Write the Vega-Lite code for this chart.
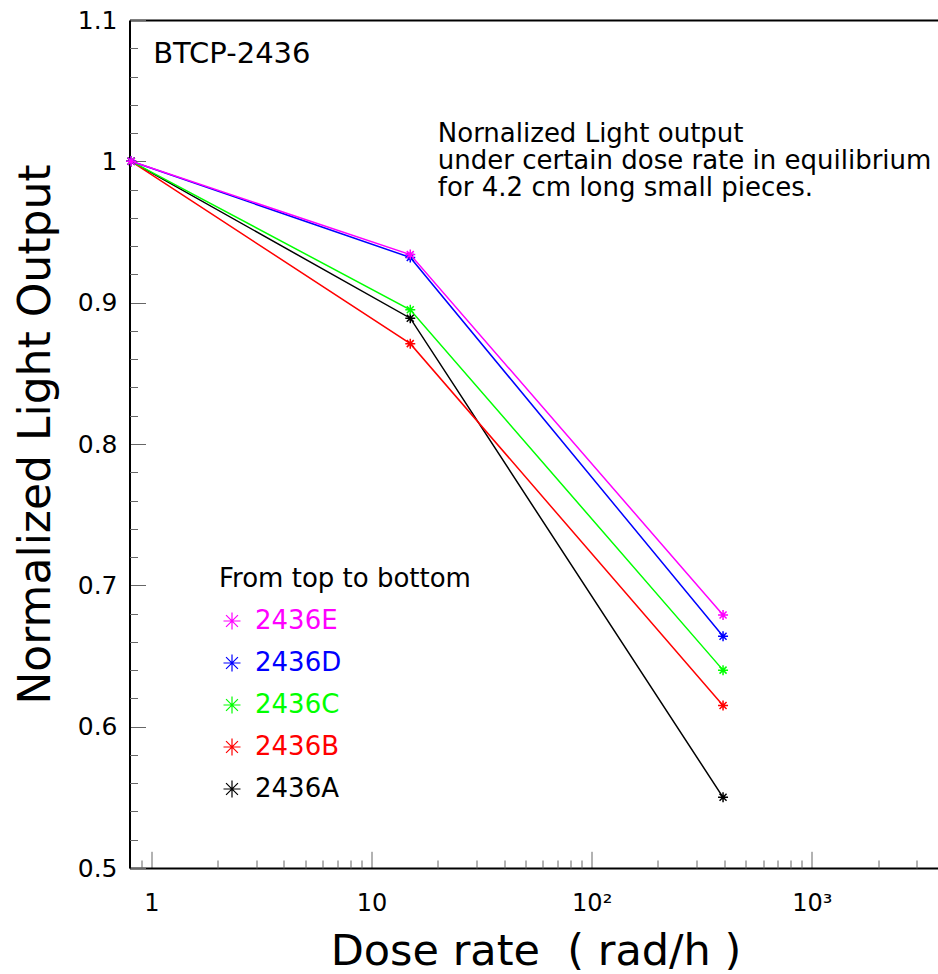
{
  "$schema": "https://vega.github.io/schema/vega-lite/v6.json",
  "width": 808.5,
  "height": 848,
  "autosize": {"type": "none"},
  "padding": {"left": 129.5, "top": 20, "right": 0, "bottom": 106},
  "background": "white",
  "config": {"view": {"stroke": null}, "font": "DejaVu Sans"},
  "datasets": {
    "series": [
      {"dose": 0.81, "lo": 1.0, "sample": "2436A"},
      {"dose": 15, "lo": 0.889, "sample": "2436A"},
      {"dose": 395, "lo": 0.55, "sample": "2436A"},
      {"dose": 0.81, "lo": 1.0, "sample": "2436B"},
      {"dose": 15, "lo": 0.871, "sample": "2436B"},
      {"dose": 395, "lo": 0.615, "sample": "2436B"},
      {"dose": 0.81, "lo": 1.0, "sample": "2436C"},
      {"dose": 15, "lo": 0.895, "sample": "2436C"},
      {"dose": 395, "lo": 0.64, "sample": "2436C"},
      {"dose": 0.81, "lo": 1.0, "sample": "2436D"},
      {"dose": 15, "lo": 0.932, "sample": "2436D"},
      {"dose": 395, "lo": 0.664, "sample": "2436D"},
      {"dose": 0.81, "lo": 1.0, "sample": "2436E"},
      {"dose": 15, "lo": 0.934, "sample": "2436E"},
      {"dose": 395, "lo": 0.679, "sample": "2436E"}
    ]
  },
  "layer": [
    {
      "data": {"name": "series"},
      "mark": {"type": "line", "strokeWidth": 1.5, "clip": true},
      "encoding": {
        "x": {
          "field": "dose", "type": "quantitative",
          "scale": {"type": "log", "domain": [0.796, 3740], "nice": false, "zero": false},
          "axis": {
            "orient": "bottom",
            "values": [1, 10, 100, 1000],
            "labelExpr": "datum.value == 1 ? '1' : datum.value == 10 ? '10' : datum.value == 100 ? '10²' : '10³'",
            "grid": false,
            "domain": true, "domainColor": "black", "domainWidth": 2,
            "ticks": true, "tickSize": -16.7, "tickColor": "#666", "tickWidth": 1,
            "labelFont": "DejaVu Sans", "labelFontSize": 24, "labelColor": "black",
            "labelBaseline": "alphabetic", "labelPadding": 58.7, "labelFlush": false, "labelOverlap": false,
            "title": "Dose rate \u00a0( rad/h )",
            "titleFont": "DejaVu Sans", "titleFontSize": 43, "titleFontWeight": "normal", "titleColor": "black",
            "titleBaseline": "alphabetic", "titleX": 406, "titleY": 96, "titleAlign": "center"
          }
        },
        "y": {
          "field": "lo", "type": "quantitative",
          "scale": {"domain": [0.5, 1.1], "nice": false, "zero": false},
          "axis": {
            "orient": "left",
            "values": [0.5, 0.6, 0.7, 0.8, 0.9, 1.0, 1.1],
            "labelExpr": "datum.value == 1 ? '1' : format(datum.value, '.1f')",
            "grid": false,
            "domain": true, "domainColor": "black", "domainWidth": 2,
            "ticks": true, "tickSize": -16, "tickColor": "#666", "tickWidth": 1,
            "labelFont": "DejaVu Sans", "labelFontSize": 25, "labelColor": "black",
            "labelAlign": "right", "labelBaseline": "middle", "labelPadding": 28.5, "labelFlush": false, "labelOverlap": false,
            "title": "Normalized Light Output",
            "titleFont": "DejaVu Sans", "titleFontSize": 44, "titleFontWeight": "normal", "titleColor": "black",
            "titleAngle": 270, "titleAlign": "center", "titleBaseline": "alphabetic",
            "titleX": -80, "titleY": 414
          }
        },
        "color": {
          "field": "sample", "type": "nominal",
          "scale": {"domain": ["2436E", "2436D", "2436C", "2436B", "2436A"], "range": ["#ff00ff", "#0000ff", "#00ff00", "#ff0000", "#000000"]},
          "legend": {
            "orient": "none", "legendX": 89.5, "legendY": 546,
            "padding": 0, "offset": 0,
            "title": "From top to bottom", "titleLimit": 500,
            "titleFont": "DejaVu Sans", "titleFontSize": 26, "titleFontWeight": "normal", "titleColor": "black",
            "titlePadding": 16, "titleAnchor": "start",
            "labelFont": "DejaVu Sans", "labelFontSize": 26, "labelOffset": 10, "labelLimit": 300,
            "labelColor": {"expr": "scale('color', datum.value)"},
            "symbolType": "M-1,0L1,0M0,-1L0,1M-0.7,-0.7L0.7,0.7M-0.7,0.7L0.7,-0.7",
            "symbolSize": 289, "symbolStrokeWidth": 1.2, "symbolFillColor": "transparent",
            "rowPadding": 16,
            "encode": {"labels": {"update": {"fill": {"scale": "color", "field": "value"}}}}
          }
        }
      }
    },
    {
      "data": {"name": "series"},
      "mark": {"type": "point", "filled": false, "shape": "M-1,0L1,0M0,-1L0,1M-0.7,-0.7L0.7,0.7M-0.7,0.7L0.7,-0.7", "size": 100, "strokeWidth": 1.5, "opacity": 1},
      "encoding": {
        "x": {
          "field": "dose", "type": "quantitative",
          "axis": {
            "orient": "bottom",
            "values": [0.8, 0.9, 2, 3, 4, 5, 6, 7, 8, 9, 20, 30, 40, 50, 60, 70, 80, 90, 200, 300, 400, 500, 600, 700, 800, 900, 2000, 3000],
            "labels": false, "domain": false, "grid": false, "title": null,
            "ticks": true, "tickSize": -8, "tickColor": "#666", "tickWidth": 1
          }
        },
        "y": {
          "field": "lo", "type": "quantitative",
          "axis": {
            "orient": "left",
            "values": [0.52, 0.54, 0.56, 0.58, 0.62, 0.64, 0.66, 0.68, 0.72, 0.74, 0.76, 0.78, 0.82, 0.84, 0.86, 0.88, 0.92, 0.94, 0.96, 0.98, 1.02, 1.04, 1.06, 1.08],
            "labels": false, "domain": false, "grid": false, "title": null,
            "ticks": true, "tickSize": -8, "tickColor": "#666", "tickWidth": 1
          }
        },
        "color": {
          "field": "sample", "type": "nominal",
          "legend": {
            "orient": "none", "legendX": 89.5, "legendY": 546,
            "padding": 0, "offset": 0,
            "title": "From top to bottom", "titleLimit": 500,
            "titleFont": "DejaVu Sans", "titleFontSize": 26, "titleFontWeight": "normal", "titleColor": "black",
            "titlePadding": 16, "titleAnchor": "start",
            "labelFont": "DejaVu Sans", "labelFontSize": 26, "labelOffset": 10, "labelLimit": 300,
            "labelColor": {"expr": "scale('color', datum.value)"},
            "symbolType": "M-1,0L1,0M0,-1L0,1M-0.7,-0.7L0.7,0.7M-0.7,0.7L0.7,-0.7",
            "symbolSize": 289, "symbolStrokeWidth": 1.2, "symbolFillColor": "transparent",
            "rowPadding": 16,
            "encode": {"labels": {"update": {"fill": {"scale": "color", "field": "value"}}}}
          }
        }
      }
    },
    {
      "data": {"values": [{"dose": 1.02, "lo": 1.0697, "label": "BTCP-2436"}]},
      "mark": {"type": "text", "align": "left", "baseline": "alphabetic", "font": "DejaVu Sans", "fontSize": 29, "color": "black"},
      "encoding": {
        "x": {
          "field": "dose", "type": "quantitative",
          "axis": {"orient": "top", "domain": true, "domainColor": "black", "domainWidth": 2, "ticks": false, "labels": false, "grid": false, "title": null}
        },
        "y": {"field": "lo", "type": "quantitative", "axis": null},
        "text": {"field": "label"}
      }
    },
    {
      "data": {"values": [{"dose": 20, "lo": 1.0139, "label": ["Nornalized Light output", "under certain dose rate in equilibrium", "for 4.2 cm long small pieces."]}]},
      "mark": {"type": "text", "align": "left", "baseline": "alphabetic", "font": "DejaVu Sans", "fontSize": 26, "lineHeight": 27, "color": "black"},
      "encoding": {
        "x": {"field": "dose", "type": "quantitative", "axis": null},
        "y": {"field": "lo", "type": "quantitative", "axis": null},
        "text": {"field": "label"}
      }
    }
  ],
  "resolve": {"axis": {"x": "independent", "y": "independent"}}
}
